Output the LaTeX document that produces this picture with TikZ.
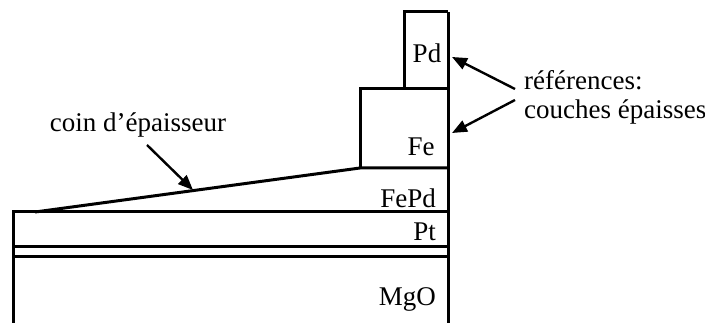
\documentclass[tikz,border=0pt]{standalone}
\usepackage{fontspec}
\setmainfont{Liberation Serif}
\usetikzlibrary{arrows.meta}
\begin{document}
\begin{tikzpicture}[x=1pt,y=-1pt,
  ln/.style={line width=3pt},
  lbl/.style={font=\fontsize{27}{31}\selectfont, inner sep=0pt},
  pointer/.style={line width=2.4pt,-{Triangle[length=15pt,width=12pt]}}]
\useasboundingbox (0,0) rectangle (705,323);
% layers
\draw[ln] (13,323) -- (13,212) -- (448,212);
\draw[ln] (13,247) -- (448,247);
\draw[ln] (13,257) -- (448,257);
\draw[ln] (35,212) -- (360,168) -- (448,168);
\draw[ln] (360,168) -- (360,89) -- (448,89);
\draw[ln] (404,89) -- (404,12) -- (448,12);
\draw[ln] (448,12) -- (448,323);
% labels
\node[lbl] (pd) at (427,53) {Pd};
\node[lbl] (fe) at (421,147) {Fe};
\node[lbl,anchor=east] (fepd) at (436,198) {FePd};
\node[lbl,anchor=east] (pt) at (436,232) {Pt};
\node[lbl,anchor=east] (mgo) at (436,299) {MgO};
\node[lbl,anchor=west] (ref1) at (524,80) {références:};
\node[lbl,anchor=west] (ref2) at (524,112) {couches épaisses};
\node[lbl] (coin) at (138,125) {coin d’épaisseur};
% arrows
\coordinate (s1) at (515,89);
\coordinate (e1) at (452,57);
\coordinate (s2) at (515,100);
\coordinate (e2) at (452,133);
\coordinate (s3) at (147,145);
\coordinate (e3) at (193,190);
\draw[pointer] (s1) -- (e1);
\draw[pointer] (s2) -- (e2);
\draw[pointer] (s3) -- (e3);
\end{tikzpicture}
\end{document}
